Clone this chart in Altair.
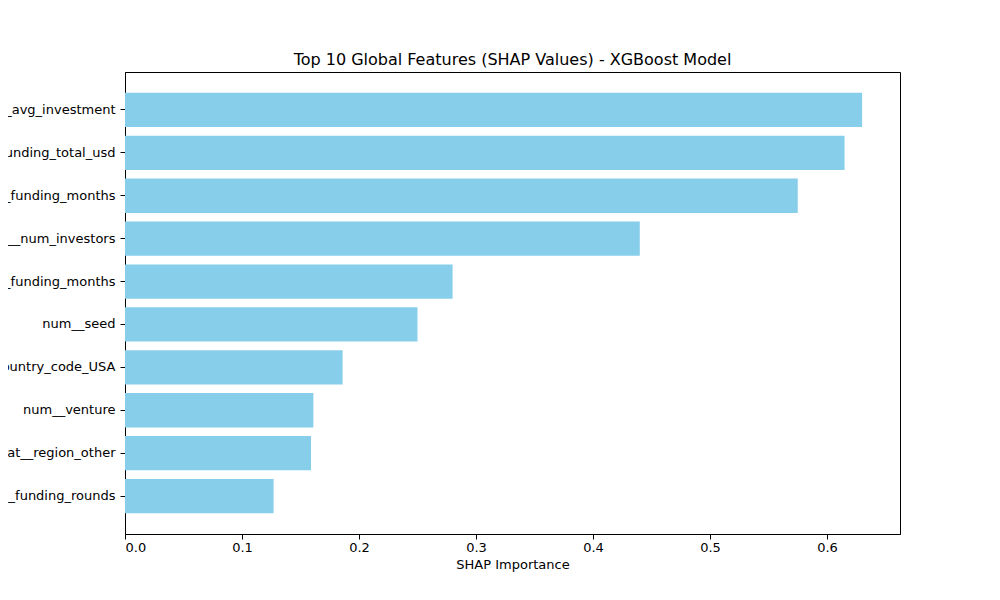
import altair as alt
import pandas as pd

features = [
    "num__avg_investment",
    "num__funding_total_usd",
    "num__last_funding_months",
    "num__num_investors",
    "num__first_funding_months",
    "num__seed",
    "cat__country_code_USA",
    "num__venture",
    "cat__region_other",
    "num__funding_rounds",
]
importance = [0.630, 0.615, 0.575, 0.440, 0.280, 0.250, 0.186, 0.161, 0.159, 0.127]

df = pd.DataFrame({"feature": features, "importance": importance})

chart = (
    alt.Chart(df)
    .mark_bar(color="skyblue")
    .encode(
        x=alt.X(
            "importance:Q",
            title="SHAP Importance",
            scale=alt.Scale(domain=[0, 0.6624], nice=False),
            axis=alt.Axis(values=[0, 0.1, 0.2, 0.3, 0.4, 0.5, 0.6], format=".1f", grid=False),
        ),
        y=alt.Y(
            "feature:N",
            sort=features,
            title=None,
            scale=alt.Scale(paddingInner=0.2, paddingOuter=0.485),
            axis=alt.Axis(labelLimit=400, labelPadding=5),
        ),
    )
    .properties(
        width=775,
        height=462,
        title=alt.TitleParams("Top 10 Global Features (SHAP Values) - XGBoost Model", fontSize=16, fontWeight="normal", offset=4),
        autosize=alt.AutoSizeParams(type="none"),
        padding={"left": 117, "top": 64, "right": 92, "bottom": 56},
    )
    .configure(font="DejaVu Sans")
    .configure_axis(
        labelFont="DejaVu Sans", titleFont="DejaVu Sans", labelFontSize=13, titleFontSize=13,
        titleFontWeight="normal", labelColor="black", titleColor="black",
        domainColor="black", tickColor="black", tickSize=5,
    )
    .configure_view(stroke="black", strokeWidth=1)
)

chart.save("out.html", embed_options={"renderer": "svg", "actions": False})
